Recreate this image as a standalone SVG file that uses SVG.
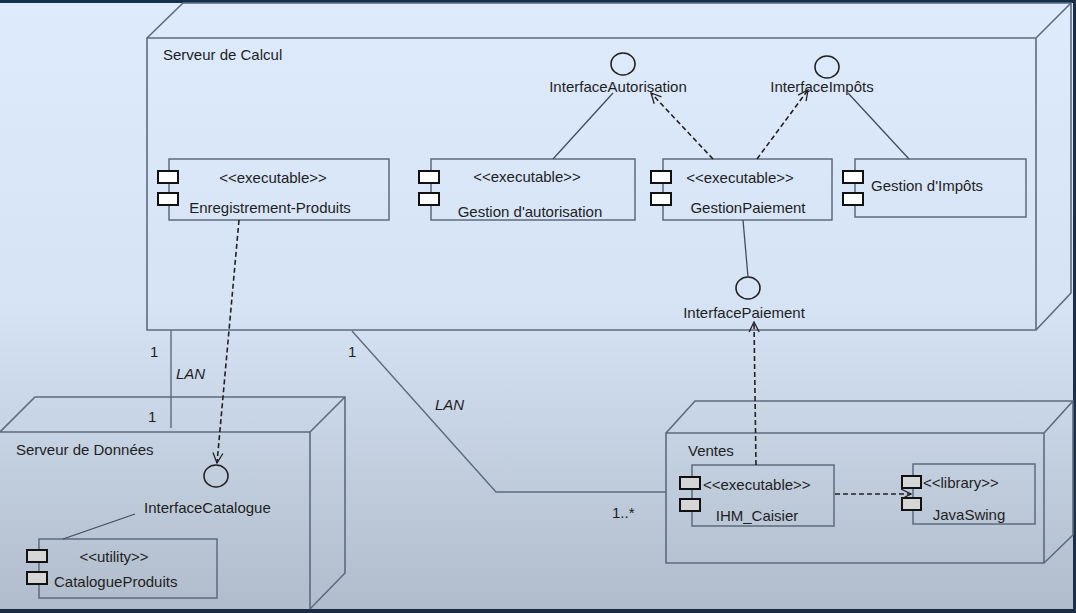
<svg xmlns="http://www.w3.org/2000/svg" width="1076" height="613" viewBox="0 0 1076 613">
<defs>
<linearGradient id="bg" x1="0" y1="0" x2="0" y2="1">
<stop offset="0" stop-color="#deebfc"/>
<stop offset="0.5" stop-color="#d6e3f4"/>
<stop offset="1" stop-color="#b0bccb"/>
</linearGradient>
<marker id="open" viewBox="0 0 12 12" refX="11" refY="6" markerWidth="12" markerHeight="12" markerUnits="userSpaceOnUse" orient="auto">
<path d="M1,1 L11,6 L1,11" fill="none" stroke="#222" stroke-width="1.3"/>
</marker>
<style>
text{font-family:"Liberation Sans",Arial,sans-serif;font-size:15px;fill:#1e1e1e}
.it{font-style:italic}
.mid{text-anchor:middle}
.node{fill:none;stroke:#5d6b7e;stroke-width:1.6}
.comp{fill:none;stroke:#5d6b7e;stroke-width:1.5}
.portw{fill:#ffffff;stroke:#111;stroke-width:2}
.portg{fill:#d6d6d6;stroke:#111;stroke-width:2}
.iface{fill:none;stroke:#222;stroke-width:1.6}
.solid{fill:none;stroke:#444c58;stroke-width:1.3}
.dash{fill:none;stroke:#222;stroke-width:1.6;stroke-dasharray:5 3;marker-end:url(#open)}
.assoc{fill:none;stroke:#5d6b7e;stroke-width:1.4}
</style>
</defs>
<rect x="0" y="0" width="1076" height="613" fill="url(#bg)"/>
<rect x="0" y="0" width="1076" height="3" fill="#15304f"/>
<rect x="0" y="609" width="1076" height="4" fill="#1b2d42"/>
<rect x="1073" y="0" width="3" height="613" fill="#1e2e44"/>

<g id="serveur-calcul">
<path class="node" d="M147,330 L147,38 L183,3 L1071,3 L1071,293 L1036,330 Z M147,38 L1036,38 L1036,330 M1036,38 L1071,3"/>
<text x="163" y="60">Serveur de Calcul</text>
</g>

<g id="enregistrement-produits">
<rect class="comp" x="169" y="159" width="220" height="61"/>
<rect class="portw" x="158" y="171" width="20" height="12"/>
<rect class="portw" x="158" y="193" width="20" height="12"/>
<text class="mid" x="273" y="183">&lt;&lt;executable&gt;&gt;</text>
<text class="mid" x="270" y="213">Enregistrement-Produits</text>
</g>

<g id="gestion-autorisation">
<rect class="comp" x="431" y="159" width="204" height="61"/>
<rect class="portw" x="419" y="171" width="20" height="12"/>
<rect class="portw" x="419" y="193" width="20" height="12"/>
<text class="mid" x="527" y="182">&lt;&lt;executable&gt;&gt;</text>
<text class="mid" x="530" y="217">Gestion d'autorisation</text>
</g>

<g id="gestion-paiement">
<rect class="comp" x="663" y="159" width="169" height="61"/>
<rect class="portw" x="651" y="171" width="20" height="12"/>
<rect class="portw" x="651" y="193" width="20" height="12"/>
<text class="mid" x="740" y="183">&lt;&lt;executable&gt;&gt;</text>
<text class="mid" x="748" y="213">GestionPaiement</text>
</g>

<g id="gestion-impots">
<rect class="comp" x="855" y="159" width="171" height="58"/>
<rect class="portw" x="843" y="171" width="20" height="12"/>
<rect class="portw" x="843" y="193" width="20" height="12"/>
<text x="871" y="191">Gestion d'Impôts</text>
</g>

<g id="interface-autorisation">
<ellipse class="iface" cx="623" cy="64" rx="12" ry="11"/>
<text class="mid" x="618" y="92">InterfaceAutorisation</text>
</g>

<g id="interface-impots">
<ellipse class="iface" cx="827" cy="67" rx="12" ry="11"/>
<text class="mid" x="822" y="92">InterfaceImpôts</text>
</g>

<g id="interface-paiement">
<ellipse class="iface" cx="748" cy="288" rx="12" ry="11"/>
<text class="mid" x="744" y="318">InterfacePaiement</text>
</g>

<g id="serveur-donnees">
<path class="node" d="M0,432 L35,397 L345,397 L345,573 L310,609 M0,432 L310,432 L310,609 M310,432 L345,397"/>
<text x="16" y="455">Serveur de Données</text>
</g>

<g id="interface-catalogue">
<ellipse class="iface" cx="216" cy="476" rx="12" ry="11"/>
<text x="144" y="513">InterfaceCatalogue</text>
</g>

<g id="catalogue-produits">
<rect class="comp" x="39" y="539" width="178" height="59"/>
<rect class="portg" x="27" y="550" width="20" height="12"/>
<rect class="portg" x="27" y="572" width="20" height="12"/>
<text class="mid" x="114" y="562">&lt;&lt;utility&gt;&gt;</text>
<text x="54" y="587">CatalogueProduits</text>
</g>

<g id="ventes">
<path class="node" d="M666,433 L695,401 L1073,401 L1073,535 L1044,563 M666,433 L1044,433 L1044,563 L666,563 Z M1044,433 L1073,401"/>
<text x="688" y="456">Ventes</text>
</g>

<g id="ihm-caisier">
<rect class="comp" x="692" y="465" width="142" height="61"/>
<rect class="portg" x="680" y="477" width="20" height="12"/>
<rect class="portg" x="680" y="499" width="20" height="12"/>
<text x="703" y="490">&lt;&lt;executable&gt;&gt;</text>
<text class="mid" x="757" y="521">IHM_Caisier</text>
</g>

<g id="javaswing">
<rect class="comp" x="913" y="464" width="122" height="60"/>
<rect class="portg" x="902" y="476" width="19" height="12"/>
<rect class="portg" x="902" y="498" width="19" height="12"/>
<text x="923" y="488">&lt;&lt;library&gt;&gt;</text>
<text class="mid" x="969" y="520">JavaSwing</text>
</g>

<g id="connectors">
<line class="solid" x1="613" y1="93" x2="553" y2="159"/>
<line class="solid" x1="848" y1="93" x2="909" y2="159"/>
<line class="solid" x1="743" y1="220" x2="748" y2="277"/>
<line class="solid" x1="135" y1="514" x2="63" y2="539"/>
<line class="dash" x1="713" y1="159" x2="651" y2="93"/>
<line class="dash" x1="757" y1="159" x2="808" y2="90"/>
<line class="dash" x1="239" y1="220" x2="217" y2="463"/>
<line class="dash" x1="756" y1="465" x2="754" y2="322"/>
<line class="dash" x1="835" y1="494" x2="911" y2="494"/>
<line class="assoc" x1="171" y1="330" x2="171" y2="428"/>
<polyline class="assoc" points="352,331 496,492 666,492"/>
<text x="150" y="357">1</text>
<text class="it" x="176" y="379">LAN</text>
<text x="148" y="422">1</text>
<text x="348" y="357">1</text>
<text class="it" x="435" y="410">LAN</text>
<text x="612" y="518">1..*</text>
</g>
</svg>
